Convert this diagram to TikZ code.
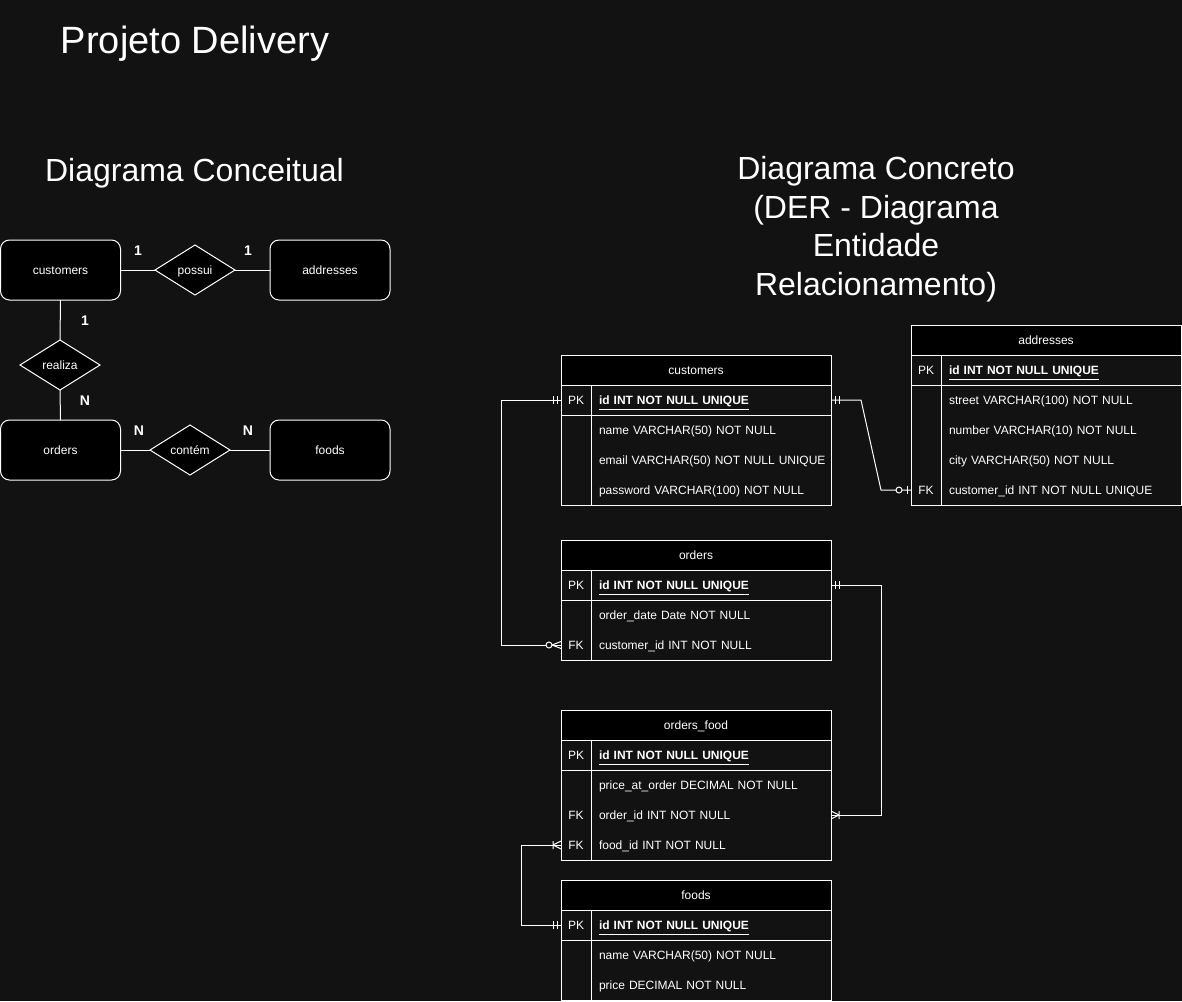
\documentclass[tikz,border=0pt]{standalone}
\usepackage{fontspec}
\setmainfont{Liberation Sans}
\usetikzlibrary{shapes.geometric}
\definecolor{bgc}{HTML}{121212}
\begin{document}
\begin{tikzpicture}[x=0.75pt,y=-0.75pt,line width=0.75pt,
  every node/.style={text=white,font=\fontsize{9}{10.8}\selectfont,outer sep=0pt},
  conn/.style={draw=white,line width=0.75pt},
  txt/.style={text height=8.3pt,text depth=1.5pt},
  entity/.style={txt,draw=white,fill=black,rounded corners=6.75pt,minimum width=90pt,minimum height=45pt,inner sep=0pt},
  rel/.style={txt,diamond,draw=white,fill=black,minimum width=60pt,minimum height=37.5pt,inner sep=0pt,aspect=1.6},
  card/.style={font=\bfseries\fontsize{10.5}{12}\selectfont},
  thead/.style={txt,draw=white,fill=black,minimum width=202.5pt,minimum height=22.5pt,inner sep=0pt,anchor=north west},
  kcell/.style={txt,minimum width=22.5pt,minimum height=22.5pt,inner sep=0pt,anchor=north west},
  fcell/.style={txt,minimum height=22.5pt,text width=168pt,inner xsep=6pt,inner ysep=0pt,align=left,anchor=north west},
  frame/.style={draw=white},
  mone/.pic={\draw[white] (4,-4)--(4,4) (8,-4)--(8,4);},
  zmany/.pic={\draw[white] (9,0)--(0,-3.5) (9,0)--(0,3.5); \draw[white,fill=bgc] (12,0) circle[radius=2.25pt];},
  zone/.pic={\draw[white] (4,-4)--(4,4); \draw[white,fill=bgc] (12,0) circle[radius=2.25pt];},
  omany/.pic={\draw[white] (8,0)--(0,-4) (8,0)--(0,4) (8,-4)--(8,4);}
]
\fill[bgc] (0,0) rectangle (1182,1001);
\useasboundingbox (0,0) rectangle (1182,1001);

% titles
\node[font=\fontsize{28.5}{34}\selectfont,anchor=base] (title) at (195,53) {Projeto Delivery};
\node[font=\fontsize{24}{28.9}\selectfont,anchor=base] (sub1) at (194.5,181) {Diagrama Conceitual};
\node[font=\fontsize{24}{28.9}\selectfont,align=center] (sub2) at (876,229) {Diagrama Concreto\\(DER - Diagrama\\Entidade\\Relacionamento)};

% conceptual diagram
\node[entity] (ccust) at (60.5,270) {customers};
\node[entity] (caddr) at (330,270) {addresses};
\node[entity] (cord) at (60.5,450) {orders};
\node[entity] (cfood) at (330,450) {foods};
\node[rel] (rposs) at (195,270) {possui};
\node[rel] (rreal) at (60,365) {realiza};
\node[rel] (rcont) at (190,450) {contém};
\draw[conn] (ccust.east) -- (rposs.west);
\draw[conn] (rposs.east) -- (caddr.west);
\draw[conn] (ccust.south) -- (rreal.north);
\draw[conn] (rreal.south) -- (cord.north);
\draw[conn] (cord.east) -- (rcont.west);
\draw[conn] (rcont.east) -- (cfood.west);
\node[card] (l1) at (138,250.5) {1};
\node[card] (l2) at (248,250.5) {1};
\node[card] (l3) at (85,320.5) {1};
\node[card] (l4) at (85,400.5) {N};
\node[card] (l5) at (139,430.5) {N};
\node[card] (l6) at (248,430.5) {N};

% customers table
\node[thead] (cust) at (561,355) {customers};
\node[kcell] (cust-k1) at (561,385) {PK};
\node[fcell] (cust-f1) at (591,385) {\textbf{\underline{id INT NOT NULL UNIQUE}}};
\node[kcell] (cust-k2) at (561,415) {};
\node[fcell] (cust-f2) at (591,415) {name VARCHAR(50) NOT NULL};
\node[kcell] (cust-k3) at (561,445) {};
\node[fcell] (cust-f3) at (591,445) {\mbox{email VARCHAR(50) NOT NULL UNIQUE}};
\node[kcell] (cust-k4) at (561,475) {};
\node[fcell] (cust-f4) at (591,475) {password VARCHAR(100) NOT NULL};
\draw[frame] (cust-k1.north west) rectangle (cust-f4.south east);
\draw[frame] (cust-k1.south west) -- (cust-f1.south east);
\draw[frame] (cust-k1.north east) -- (cust-k4.south east);

% addresses table
\node[thead] (addr) at (911,325) {addresses};
\node[kcell] (addr-k1) at (911,355) {PK};
\node[fcell] (addr-f1) at (941,355) {\textbf{\underline{id INT NOT NULL UNIQUE}}};
\node[kcell] (addr-k2) at (911,385) {};
\node[fcell] (addr-f2) at (941,385) {street VARCHAR(100) NOT NULL};
\node[kcell] (addr-k3) at (911,415) {};
\node[fcell] (addr-f3) at (941,415) {number VARCHAR(10) NOT NULL};
\node[kcell] (addr-k4) at (911,445) {};
\node[fcell] (addr-f4) at (941,445) {city VARCHAR(50) NOT NULL};
\node[kcell] (addr-k5) at (911,475) {FK};
\node[fcell] (addr-f5) at (941,475) {\mbox{customer\_id INT NOT NULL UNIQUE}};
\draw[frame] (addr-k1.north west) rectangle (addr-f5.south east);
\draw[frame] (addr-k1.south west) -- (addr-f1.south east);
\draw[frame] (addr-k1.north east) -- (addr-k5.south east);

% orders table
\node[thead] (ord) at (561,540) {orders};
\node[kcell] (ord-k1) at (561,570) {PK};
\node[fcell] (ord-f1) at (591,570) {\textbf{\underline{id INT NOT NULL UNIQUE}}};
\node[kcell] (ord-k2) at (561,600) {};
\node[fcell] (ord-f2) at (591,600) {order\_date Date NOT NULL};
\node[kcell] (ord-k3) at (561,630) {FK};
\node[fcell] (ord-f3) at (591,630) {customer\_id INT NOT NULL};
\draw[frame] (ord-k1.north west) rectangle (ord-f3.south east);
\draw[frame] (ord-k1.south west) -- (ord-f1.south east);
\draw[frame] (ord-k1.north east) -- (ord-k3.south east);

% orders_food table
\node[thead] (of) at (561,710) {orders\_food};
\node[kcell] (of-k1) at (561,740) {PK};
\node[fcell] (of-f1) at (591,740) {\textbf{\underline{id INT NOT NULL UNIQUE}}};
\node[kcell] (of-k2) at (561,770) {};
\node[fcell] (of-f2) at (591,770) {price\_at\_order DECIMAL NOT NULL};
\node[kcell] (of-k3) at (561,800) {FK};
\node[fcell] (of-f3) at (591,800) {order\_id INT NOT NULL};
\node[kcell] (of-k4) at (561,830) {FK};
\node[fcell] (of-f4) at (591,830) {food\_id INT NOT NULL};
\draw[frame] (of-k1.north west) rectangle (of-f4.south east);
\draw[frame] (of-k1.south west) -- (of-f1.south east);
\draw[frame] (of-k1.north east) -- (of-k4.south east);

% foods table
\node[thead] (food) at (561,880) {foods};
\node[kcell] (food-k1) at (561,910) {PK};
\node[fcell] (food-f1) at (591,910) {\textbf{\underline{id INT NOT NULL UNIQUE}}};
\node[kcell] (food-k2) at (561,940) {};
\node[fcell] (food-f2) at (591,940) {name VARCHAR(50) NOT NULL};
\node[kcell] (food-k3) at (561,970) {};
\node[fcell] (food-f3) at (591,970) {price DECIMAL NOT NULL};
\draw[frame] (food-k1.north west) rectangle (food-f3.south east);
\draw[frame] (food-k1.south west) -- (food-f1.south east);
\draw[frame] (food-k1.north east) -- (food-k3.south east);

% relationships
\draw[conn] (cust-k1.west) -- ++(-60,0) |- (ord-k3.west);
\path (cust-k1.west) pic[xscale=-1]{mone};
\path (ord-k3.west) pic[xscale=-1]{zmany};

\draw[conn] (cust-f1.east) -- ++(30,0) -- ([shift={(-30,0)}]addr-k5.west) -- (addr-k5.west);
\path (cust-f1.east) pic{mone};
\path (addr-k5.west) pic[xscale=-1]{zone};

\draw[conn] (ord-f1.east) -- ++(50,0) |- (of-f3.east);
\path (ord-f1.east) pic{mone};
\path (of-f3.east) pic{omany};

\draw[conn] (food-k1.west) -- ++(-40,0) |- (of-k4.west);
\path (food-k1.west) pic[xscale=-1]{mone};
\path (of-k4.west) pic[xscale=-1]{omany};
\end{tikzpicture}
\end{document}
